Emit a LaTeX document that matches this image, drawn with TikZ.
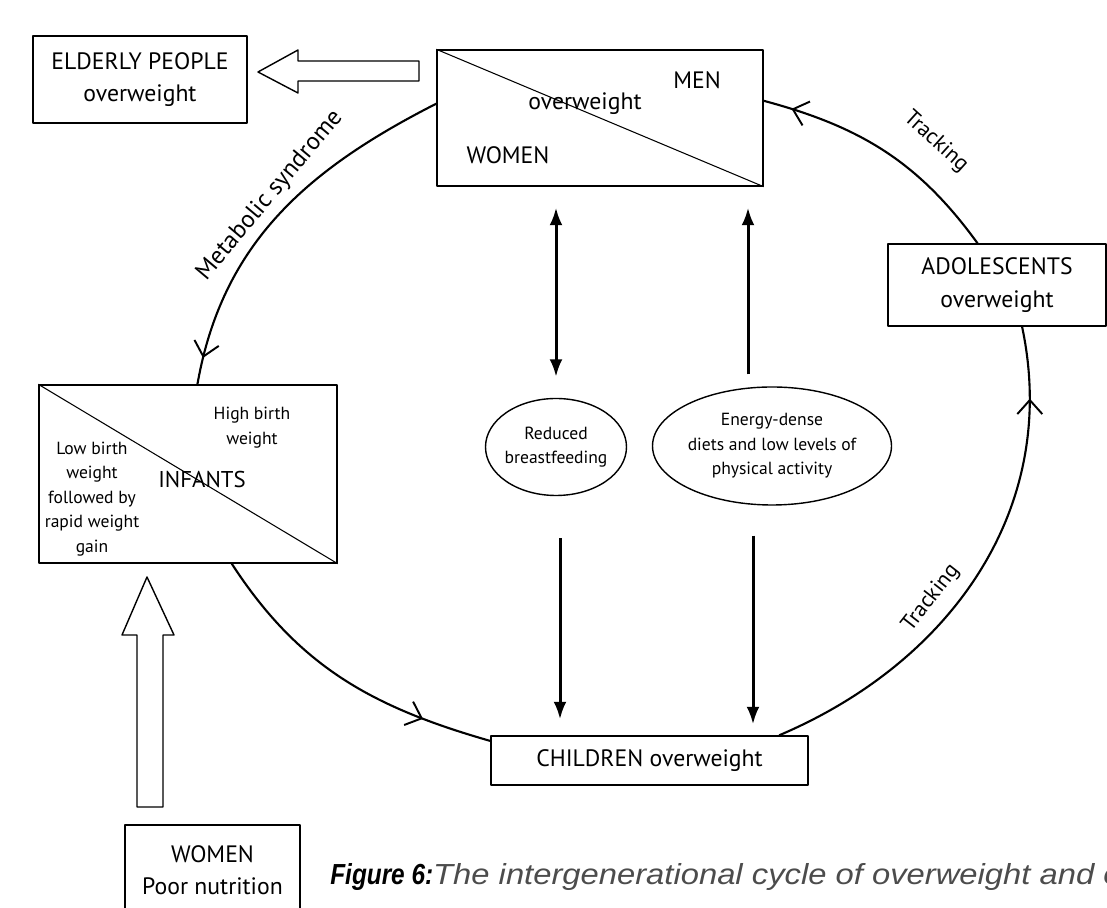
\documentclass[tikz,border=0pt]{standalone}
\usepackage{fontspec}
\setmainfont{PT Sans}
\newfontfamily\capfont{Liberation Sans}
\usetikzlibrary{arrows.meta,decorations.markings,shapes.geometric}

\tikzset{midarrow/.style={postaction={decorate,decoration={markings,
  mark=at position #1 with {\arrow{Straight Barb[length=2.8mm,width=5mm,line width=1.1pt]}}}}}}

\begin{document}
\begin{tikzpicture}[line join=round]
\useasboundingbox (0,0) rectangle (22.14,18.16);
\tikzstyle{box}=[draw, line width=0.8pt, inner sep=0pt, align=center, font=\fontsize{13.5}{18.5}\selectfont]
\tikzstyle{oval}=[draw, ellipse, line width=0.8pt, inner sep=0pt]
\tikzstyle{lbl}=[inner sep=0pt, align=center, font=\fontsize{13.5}{18.5}\selectfont]
\tikzstyle{small}=[inner sep=0pt, align=center, font=\fontsize{10}{14}\selectfont]
\tikzstyle{loopline}=[line width=1.2pt]
\tikzstyle{solidarrow}=[line width=1.7pt, -{Latex[length=3.5mm,width=2.6mm]}]
\tikzstyle{hollow}=[draw, line width=0.8pt, fill=white]

% boxes
\node at (2.8,16.57) [box, minimum width=4.28cm, minimum height=1.74cm] (elderly) {ELDERLY PEOPLE\\overweight};
\node at (12.0,15.8) [box, minimum width=6.52cm, minimum height=2.72cm] (men) {};
\node at (19.94,12.46) [box, minimum width=4.36cm, minimum height=1.64cm] (adol) {ADOLESCENTS\\overweight};
\node at (3.76,8.68) [box, minimum width=5.96cm, minimum height=3.56cm] (infants) {};
\node at (4.25,0.76) [box, minimum width=3.5cm, minimum height=1.8cm] (women) {WOMEN\\Poor nutrition};
\node at (12.99,2.95) [box, minimum width=6.34cm, minimum height=0.98cm] (children) {CHILDREN overweight};
\node at (11.12,9.22) [oval, minimum width=2.82cm, minimum height=1.94cm] (feeding) {};
\node at (15.44,9.24) [oval, minimum width=4.78cm, minimum height=2.36cm] (diets) {};

% texts inside the split boxes
\draw[line width=0.6pt] (men.north west) -- (men.south east);
\node at (13.94,16.56) [lbl] (mentxt) {MEN};
\node at (11.7,16.08) [lbl] (owtxt) {overweight};
\node at (10.16,15.06) [lbl] (womentxt) {WOMEN};
\draw[line width=0.6pt] (infants.north west) -- (infants.south east);
\node at (5.04,9.61) [small] (hightxt) {High birth\\weight};
\node at (1.84,8.18) [small] (lowtxt) {Low birth\\weight\\followed by\\rapid weight\\gain};
\node at (4.04,8.56) [lbl, font=\fontsize{13}{16}\selectfont] (inftxt) {INFANTS};
\node at (feeding) [small] (feedtxt) {Reduced\\breastfeeding};
\node at (diets) [small] (dietstxt) {Energy-dense\\diets and low levels of\\physical activity};

% the cycle
\draw[loopline, midarrow=0.93] (men.175) to[out=207, in=80] (infants.84);
\draw[loopline, midarrow=0.78] (infants.-64) to[out=-57, in=164] (children.173);
\draw[loopline, midarrow=0.86] (children.11) to[out=23, in=-78] (adol.-59);
\draw[loopline, midarrow=0.89] (adol.115) to[out=126, in=-15] (men.6);
\node at (5.4,14.25) [lbl, font=\fontsize{14}{16}\selectfont, rotate=50] (metab) {Metabolic syndrome};
\node at (18.72,15.32) [lbl, font=\fontsize{12.5}{15}\selectfont, rotate=-42] (track1) {Tracking};
\node at (18.62,6.2) [lbl, font=\fontsize{12.5}{15}\selectfont, rotate=52] (track2) {Tracking};

% straight arrows
\draw[line width=1.7pt, {Latex[length=3.5mm,width=2.6mm]}-{Latex[length=3.5mm,width=2.6mm]}, shorten <=0.42cm, shorten >=0.42cm] (feeding.north) -- (feeding.north |- men.south);
\draw[solidarrow, shorten <=0.24cm, shorten >=0.42cm] ([xshift=-4.8mm]diets.north) -- ([xshift=-4.8mm]diets.north |- men.south);
\draw[solidarrow, shorten <=0.84cm, shorten >=0.32cm] ([xshift=0.8mm]feeding.south) -- ([xshift=0.8mm]feeding.south |- children.north);
\draw[solidarrow, shorten <=0.6cm, shorten >=0.22cm] ([xshift=-3.8mm]diets.south) -- ([xshift=-3.8mm]diets.south |- children.north);

% block arrows
\draw[hollow] (5.16,16.72) -- (5.96,17.16) -- (5.96,16.94) -- (8.38,16.94) -- (8.38,16.54) -- (5.96,16.54) -- (5.96,16.3) -- cycle;
\draw[hollow] (2.94,6.62) -- (3.48,5.46) -- (3.26,5.46) -- (3.26,2.02) -- (2.74,2.02) -- (2.74,5.46) -- (2.44,5.46) -- cycle;

% caption
\node at (6.6,0.46) [anchor=base west, inner sep=0pt, font=\capfont\fontsize{16.5}{18}\selectfont] (caption) {\scalebox{0.84}[1]{\textbf{\textit{Figure 6:}}}\textcolor{black!70}{\scalebox{1.13}[1]{\textit{The intergenerational cycle of overweight and o}}}};
\end{tikzpicture}
\end{document}
